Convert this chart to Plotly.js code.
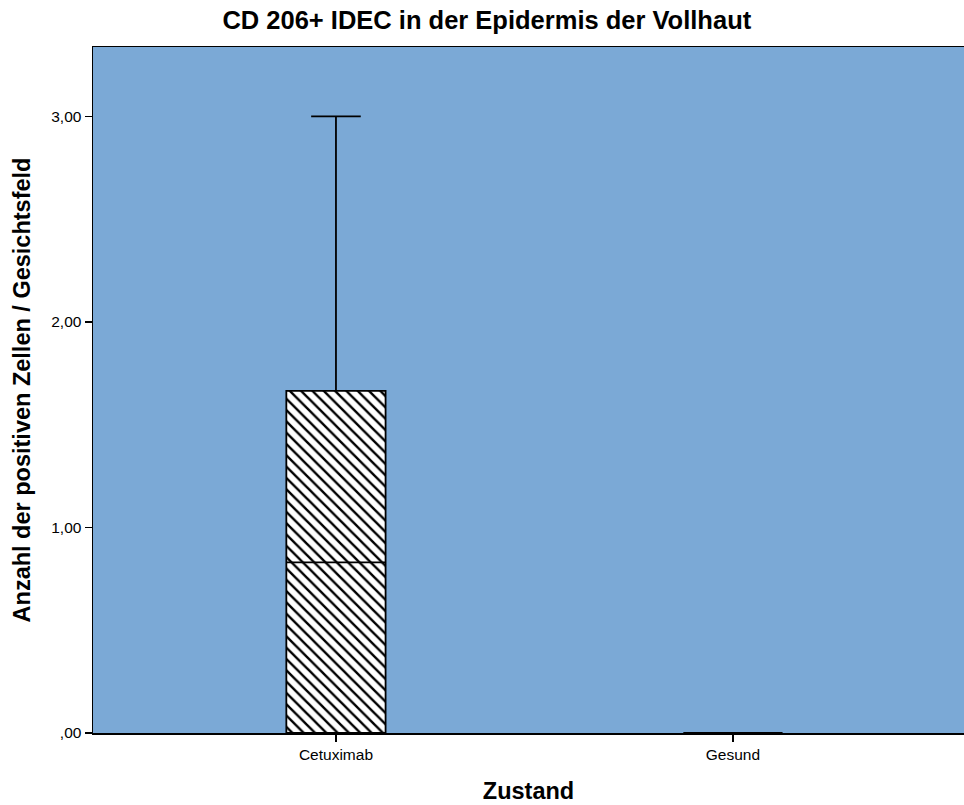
<!DOCTYPE html>
<html>
<head>
<meta charset="utf-8">
<script src="https://cdn.plot.ly/plotly-3.0.1.min.js"></script>
<style>html,body{margin:0;padding:0;background:#fff;}#chart{width:964px;height:805px;}</style>
</head>
<body>
<div id="chart"></div>
<script>
const categories = ['Cetuximab', 'Gesund'];
const q1 = [0, 0];
const median = [0.83, 0];
const q3 = [1.665, 0];
const lowerfence = [0, 0];
const upperfence = [3.0, 0];
const yTickVals = [0, 1, 2, 3];
const yTickText = [',00', '1,00', '2,00', '3,00'];

const font = 'Liberation Sans, Arial, sans-serif';

const hatch = {
  type: 'bar',
  x: categories,
  base: q1,
  y: q3.map((v, i) => v - q1[i]),
  width: 0.25,
  marker: {
    color: '#ffffff',
    line: {width: 0},
    pattern: {shape: '\\', bgcolor: '#ffffff', fgcolor: '#000000', size: 8, solidity: 0.3}
  },
  hoverinfo: 'skip',
  showlegend: false
};

const box = {
  type: 'box',
  x: categories,
  q1: q1,
  median: median,
  q3: q3,
  lowerfence: lowerfence,
  upperfence: upperfence,
  width: 0.25,
  whiskerwidth: 0.5,
  boxpoints: false,
  fillcolor: 'rgba(0,0,0,0)',
  line: {color: '#000000', width: 1.8},
  showlegend: false
};

const layout = {
  width: 964,
  height: 805,
  margin: {l: 93, r: 0, t: 47, b: 72},
  paper_bgcolor: '#ffffff',
  plot_bgcolor: '#7BA9D6',
  font: {family: font, color: '#000000'},
  showlegend: false,
  title: {
    text: '<b>CD 206+ IDEC in der Epidermis der Vollhaut</b>',
    font: {family: font, size: 25.5, color: '#000000'},
    x: 0.505, xref: 'container', xanchor: 'center',
    y: 0.975, yref: 'container', yanchor: 'middle'
  },
  xaxis: {
    type: 'category',
    range: [-0.612, 1.582],
    showgrid: false,
    zeroline: false,
    showline: true, linecolor: '#000000', linewidth: 1.5, mirror: true,
    ticks: 'outside', ticklen: 7, tickwidth: 1.5, tickcolor: '#000000',
    tickfont: {family: font, size: 15.5, color: '#000000'},
    automargin: false,
    title: {text: '<b>Zustand</b>', font: {family: font, size: 23.5, color: '#000000'}, standoff: 20}
  },
  yaxis: {
    range: [0, 3.338],
    showgrid: false,
    zeroline: false,
    showline: true, linecolor: '#000000', linewidth: 1.5,
    ticks: 'outside', ticklen: 7, tickwidth: 1.5, tickcolor: '#000000',
    tickvals: yTickVals, ticktext: yTickText,
    tickfont: {family: font, size: 15.5, color: '#000000'},
    automargin: false,
    title: {text: '<b>Anzahl der positiven Zellen / Gesichtsfeld</b>', font: {family: font, size: 23.5, color: '#000000'}, standoff: 14}
  },
  bargap: 0,
  boxgap: 0
};

Plotly.newPlot('chart', [hatch, box], layout, {displayModeBar: false, staticPlot: true});
</script>
</body>
</html>
